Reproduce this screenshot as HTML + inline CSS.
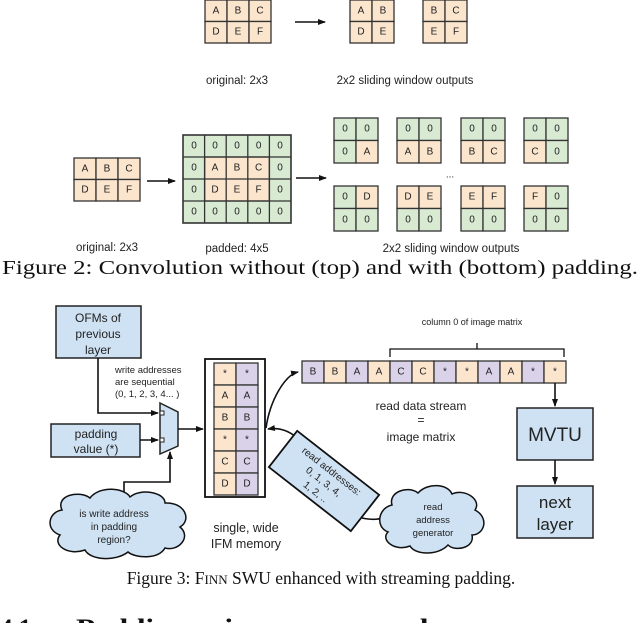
<!DOCTYPE html>
<html><head><meta charset="utf-8"><style>
html,body{margin:0;padding:0;background:#fff;width:640px;height:623px;overflow:hidden}
svg{display:block}
.c{font-family:"Liberation Sans",sans-serif;font-size:10px;fill:#222;text-anchor:middle;dominant-baseline:central}
.l{font-family:"Liberation Sans",sans-serif;font-size:11.5px;fill:#222;text-anchor:middle}
.cap{font-family:"Liberation Serif",serif;font-size:19px;fill:#111;text-anchor:middle}
.o{fill:#fce5cd;stroke:#333;stroke-width:1.3}
.g{fill:#d9ead3;stroke:#333;stroke-width:1.3}
.p{fill:#d9d2e9;stroke:#333;stroke-width:1.3}
.b{fill:#cfe2f3;stroke:#222;stroke-width:1.5}
.ln{fill:none;stroke:#111;stroke-width:1.6}
</style></head><body>
<svg width="640" height="623" viewBox="0 0 640 623" xmlns="http://www.w3.org/2000/svg">
<defs><marker id="a" markerWidth="8" markerHeight="8" refX="7" refY="4" orient="auto" markerUnits="userSpaceOnUse"><path d="M0,1 L8,4 L0,7z" fill="#111"/></marker></defs>

<!-- TOP -->
<g>
<rect class="o" x="205" y="0" width="22" height="21.5"/><rect class="o" x="227" y="0" width="22" height="21.5"/><rect class="o" x="249" y="0" width="22" height="21.5"/>
<rect class="o" x="205" y="21.5" width="22" height="21.5"/><rect class="o" x="227" y="21.5" width="22" height="21.5"/><rect class="o" x="249" y="21.5" width="22" height="21.5"/>
<text class="c" x="216" y="11">A</text><text class="c" x="238" y="11">B</text><text class="c" x="260" y="11">C</text>
<text class="c" x="216" y="32">D</text><text class="c" x="238" y="32">E</text><text class="c" x="260" y="32">F</text>
<line class="ln" x1="295" y1="22" x2="325" y2="22" marker-end="url(#a)"/>
<rect class="o" x="350" y="0" width="22" height="21.5"/><rect class="o" x="372" y="0" width="22" height="21.5"/>
<rect class="o" x="350" y="21.5" width="22" height="21.5"/><rect class="o" x="372" y="21.5" width="22" height="21.5"/>
<text class="c" x="361" y="11">A</text><text class="c" x="383" y="11">B</text><text class="c" x="361" y="32">D</text><text class="c" x="383" y="32">E</text>
<rect class="o" x="423" y="0" width="22" height="21.5"/><rect class="o" x="445" y="0" width="22" height="21.5"/>
<rect class="o" x="423" y="21.5" width="22" height="21.5"/><rect class="o" x="445" y="21.5" width="22" height="21.5"/>
<text class="c" x="434" y="11">B</text><text class="c" x="456" y="11">C</text><text class="c" x="434" y="32">E</text><text class="c" x="456" y="32">F</text>
<text class="l" x="237" y="84">original: 2x3</text>
<text class="l" x="405" y="84">2x2 sliding window outputs</text>
</g>

<!-- BOTTOM fig2 -->
<g>
<rect class="o" x="74" y="158" width="22" height="21.5"/><rect class="o" x="96" y="158" width="22" height="21.5"/><rect class="o" x="118" y="158" width="22" height="21.5"/>
<rect class="o" x="74" y="179.5" width="22" height="21.5"/><rect class="o" x="96" y="179.5" width="22" height="21.5"/><rect class="o" x="118" y="179.5" width="22" height="21.5"/>
<text class="c" x="85" y="169">A</text><text class="c" x="107" y="169">B</text><text class="c" x="129" y="169">C</text>
<text class="c" x="85" y="190">D</text><text class="c" x="107" y="190">E</text><text class="c" x="129" y="190">F</text>
<line class="ln" x1="147" y1="181" x2="175" y2="181" marker-end="url(#a)"/>

<rect x="183" y="135" width="108" height="88" fill="#d9ead3" stroke="#333" stroke-width="1.6"/>
<rect class="o" x="204.6" y="157" width="64.8" height="44"/>
<g stroke="#333" stroke-width="1.3">
<line x1="204.6" y1="135" x2="204.6" y2="223"/><line x1="226.2" y1="135" x2="226.2" y2="223"/><line x1="247.8" y1="135" x2="247.8" y2="223"/><line x1="269.4" y1="135" x2="269.4" y2="223"/>
<line x1="183" y1="157" x2="291" y2="157"/><line x1="183" y1="179" x2="291" y2="179"/><line x1="183" y1="201" x2="291" y2="201"/>
</g>
<text class="c" x="194" y="146">0</text><text class="c" x="215" y="146">0</text><text class="c" x="237" y="146">0</text><text class="c" x="258.6" y="146">0</text><text class="c" x="280" y="146">0</text>
<text class="c" x="194" y="168">0</text><text class="c" x="215" y="168">A</text><text class="c" x="237" y="168">B</text><text class="c" x="258.6" y="168">C</text><text class="c" x="280" y="168">0</text>
<text class="c" x="194" y="190">0</text><text class="c" x="215" y="190">D</text><text class="c" x="237" y="190">E</text><text class="c" x="258.6" y="190">F</text><text class="c" x="280" y="190">0</text>
<text class="c" x="194" y="212">0</text><text class="c" x="215" y="212">0</text><text class="c" x="237" y="212">0</text><text class="c" x="258.6" y="212">0</text><text class="c" x="280" y="212">0</text>
<line class="ln" x1="296" y1="178" x2="326" y2="178" marker-end="url(#a)"/>

<!-- windows row 1 -->
<rect class="g" x="334" y="118" width="22" height="22.5"/><rect class="g" x="356" y="118" width="22" height="22.5"/><rect class="g" x="334" y="140.5" width="22" height="22.5"/><rect class="o" x="356" y="140.5" width="22" height="22.5"/>
<text class="c" x="345" y="129">0</text><text class="c" x="367" y="129">0</text><text class="c" x="345" y="152">0</text><text class="c" x="367" y="152">A</text>
<rect class="g" x="397" y="118" width="22" height="22.5"/><rect class="g" x="419" y="118" width="22" height="22.5"/><rect class="o" x="397" y="140.5" width="22" height="22.5"/><rect class="o" x="419" y="140.5" width="22" height="22.5"/>
<text class="c" x="408" y="129">0</text><text class="c" x="430" y="129">0</text><text class="c" x="408" y="152">A</text><text class="c" x="430" y="152">B</text>
<rect class="g" x="461" y="118" width="22" height="22.5"/><rect class="g" x="483" y="118" width="22" height="22.5"/><rect class="o" x="461" y="140.5" width="22" height="22.5"/><rect class="o" x="483" y="140.5" width="22" height="22.5"/>
<text class="c" x="472" y="129">0</text><text class="c" x="494" y="129">0</text><text class="c" x="472" y="152">B</text><text class="c" x="494" y="152">C</text>
<rect class="g" x="524" y="118" width="22" height="22.5"/><rect class="g" x="546" y="118" width="22" height="22.5"/><rect class="o" x="524" y="140.5" width="22" height="22.5"/><rect class="g" x="546" y="140.5" width="22" height="22.5"/>
<text class="c" x="535" y="129">0</text><text class="c" x="557" y="129">0</text><text class="c" x="535" y="152">C</text><text class="c" x="557" y="152">0</text>
<text class="c" x="450" y="175">...</text>
<!-- windows row 2 -->
<rect class="g" x="334" y="186" width="22" height="22.5"/><rect class="o" x="356" y="186" width="22" height="22.5"/><rect class="g" x="334" y="208.5" width="22" height="22.5"/><rect class="g" x="356" y="208.5" width="22" height="22.5"/>
<text class="c" x="345" y="197">0</text><text class="c" x="367" y="197">D</text><text class="c" x="345" y="220">0</text><text class="c" x="367" y="220">0</text>
<rect class="o" x="397" y="186" width="22" height="22.5"/><rect class="o" x="419" y="186" width="22" height="22.5"/><rect class="g" x="397" y="208.5" width="22" height="22.5"/><rect class="g" x="419" y="208.5" width="22" height="22.5"/>
<text class="c" x="408" y="197">D</text><text class="c" x="430" y="197">E</text><text class="c" x="408" y="220">0</text><text class="c" x="430" y="220">0</text>
<rect class="o" x="461" y="186" width="22" height="22.5"/><rect class="o" x="483" y="186" width="22" height="22.5"/><rect class="g" x="461" y="208.5" width="22" height="22.5"/><rect class="g" x="483" y="208.5" width="22" height="22.5"/>
<text class="c" x="472" y="197">E</text><text class="c" x="494" y="197">F</text><text class="c" x="472" y="220">0</text><text class="c" x="494" y="220">0</text>
<rect class="o" x="524" y="186" width="22" height="22.5"/><rect class="g" x="546" y="186" width="22" height="22.5"/><rect class="g" x="524" y="208.5" width="22" height="22.5"/><rect class="g" x="546" y="208.5" width="22" height="22.5"/>
<text class="c" x="535" y="197">F</text><text class="c" x="557" y="197">0</text><text class="c" x="535" y="220">0</text><text class="c" x="557" y="220">0</text>

<text class="l" x="107" y="251">original: 2x3</text>
<text class="l" x="237" y="252">padded: 4x5</text>
<text class="l" x="451" y="252">2x2 sliding window outputs</text>
<text class="cap" x="320" y="274" style="font-size:19.5px" textLength="636" lengthAdjust="spacingAndGlyphs">Figure 2:  Convolution without (top) and with (bottom) padding.</text>
</g>

<!-- FIGURE 3 -->
<g>
<rect class="b" x="56" y="306" width="85" height="52"/>
<text class="l" x="98" y="322" style="font-size:12px">OFMs of</text><text class="l" x="98" y="338" style="font-size:12px">previous</text><text class="l" x="98" y="354" style="font-size:12px">layer</text>
<text x="115" y="373" style="font-family:'Liberation Sans',sans-serif;font-size:9.5px;fill:#222">write addresses</text>
<text x="115" y="385" style="font-family:'Liberation Sans',sans-serif;font-size:9.5px;fill:#222">are sequential</text>
<text x="115" y="397" style="font-family:'Liberation Sans',sans-serif;font-size:9.5px;fill:#222">(0, 1, 2, 3, 4... )</text>
<rect class="b" x="51" y="424" width="89" height="33"/>
<text class="l" x="96" y="438" style="font-size:12px">padding</text><text class="l" x="96" y="453" style="font-size:12px">value (*)</text>
<polyline class="ln" points="98,358 98,413 158,413" marker-end="url(#a)"/>
<line class="ln" x1="140" y1="440" x2="158" y2="440" marker-end="url(#a)"/>
<path d="M160,403 L178,412 L178,446 L160,454 Z" fill="#cfe2f3" stroke="#222" stroke-width="1.5"/>
<rect x="160" y="411" width="4" height="4" fill="#fff" stroke="#222"/><rect x="160" y="438" width="4" height="4" fill="#fff" stroke="#222"/>
<polyline class="ln" points="124,506 124,482 170,482 170,452" marker-end="url(#a)"/>
<line class="ln" x1="178" y1="429" x2="203" y2="429" marker-end="url(#a)"/>

<rect x="205" y="359" width="60" height="138" fill="#fff" stroke="#111" stroke-width="1.8"/>
<g>
<rect class="o" x="214" y="363" width="22" height="22"/><rect class="p" x="236" y="363" width="22" height="22"/>
<rect class="o" x="214" y="385" width="22" height="22"/><rect class="p" x="236" y="385" width="22" height="22"/>
<rect class="o" x="214" y="407" width="22" height="22"/><rect class="p" x="236" y="407" width="22" height="22"/>
<rect class="o" x="214" y="429" width="22" height="22"/><rect class="p" x="236" y="429" width="22" height="22"/>
<rect class="o" x="214" y="451" width="22" height="22"/><rect class="p" x="236" y="451" width="22" height="22"/>
<rect class="o" x="214" y="473" width="22" height="22"/><rect class="p" x="236" y="473" width="22" height="22"/>
<text class="c" x="225" y="374">*</text><text class="c" x="247" y="374">*</text>
<text class="c" x="225" y="396">A</text><text class="c" x="247" y="396">A</text>
<text class="c" x="225" y="418">B</text><text class="c" x="247" y="418">B</text>
<text class="c" x="225" y="440">*</text><text class="c" x="247" y="440">*</text>
<text class="c" x="225" y="462">C</text><text class="c" x="247" y="462">C</text>
<text class="c" x="225" y="484">D</text><text class="c" x="247" y="484">D</text>
</g>
<text class="l" x="246" y="532" style="font-size:12.5px">single, wide</text>
<text class="l" x="246" y="548" style="font-size:12.5px">IFM memory</text>

<path d="M62,510 C55,495 80,490 90,498 C100,485 125,488 130,497 C140,488 165,492 165,503 C185,502 192,520 180,527 C192,537 178,552 165,548 C158,560 135,558 128,552 C115,562 90,560 85,550 C68,556 52,545 60,535 C45,530 48,512 62,510 Z" fill="#cfe2f3" stroke="#111" stroke-width="1.5"/>
<text class="l" x="114" y="517" style="font-size:10px">is write address</text>
<text class="l" x="114" y="530" style="font-size:10px">in padding</text>
<text class="l" x="114" y="543" style="font-size:10px">region?</text>

<path d="M266,428 C270,400 285,375 298,372" class="ln" marker-end="url(#a)"/>
<path d="M296,437 C285,428 275,428 268,429" class="ln" marker-end="url(#a)"/>
<path d="M362,518 C372,520 380,520 388,516" class="ln"/>

<g transform="translate(324,481) rotate(38)">
<rect x="-52" y="-23" width="104" height="46" fill="#cfe2f3" stroke="#111" stroke-width="1.8"/>
<text class="l" x="0" y="-9" style="font-size:10px">read addresses:</text>
<text class="l" x="0" y="4" style="font-size:10px">0, 1, 3, 4,</text>
<text class="l" x="0" y="17" style="font-size:10px">1, 2, ..</text>
</g>

<path d="M392,505 C388,492 408,485 418,493 C428,482 448,484 452,494 C465,488 482,500 475,510 C490,518 484,535 472,535 C475,548 455,552 448,545 C438,556 415,555 410,546 C395,552 380,540 388,532 C375,527 378,508 392,505 Z" fill="#cfe2f3" stroke="#111" stroke-width="1.5"/>
<text class="l" x="433" y="510" style="font-size:9.5px">read</text>
<text class="l" x="433" y="523" style="font-size:9.5px">address</text>
<text class="l" x="433" y="536" style="font-size:9.5px">generator</text>

<text class="l" x="472" y="325" style="font-size:9px">column 0 of image matrix</text>
<path d="M390,357 L390,349 L477,349 L477,343 M477,349 L564,349 L564,357" fill="none" stroke="#111" stroke-width="1.3"/>

<g>
<rect class="p" x="302" y="361" width="22" height="22"/><rect class="o" x="324" y="361" width="22" height="22"/>
<rect class="p" x="346" y="361" width="22" height="22"/><rect class="o" x="368" y="361" width="22" height="22"/>
<rect class="p" x="390" y="361" width="22" height="22"/><rect class="o" x="412" y="361" width="22" height="22"/>
<rect class="p" x="434" y="361" width="22" height="22"/><rect class="o" x="456" y="361" width="22" height="22"/>
<rect class="p" x="478" y="361" width="22" height="22"/><rect class="o" x="500" y="361" width="22" height="22"/>
<rect class="p" x="522" y="361" width="22" height="22"/><rect class="o" x="544" y="361" width="22" height="22"/>
<text class="c" x="313" y="372">B</text><text class="c" x="335" y="372">B</text><text class="c" x="357" y="372">A</text><text class="c" x="379" y="372">A</text>
<text class="c" x="401" y="372">C</text><text class="c" x="423" y="372">C</text><text class="c" x="445" y="372">*</text><text class="c" x="467" y="372">*</text>
<text class="c" x="489" y="372">A</text><text class="c" x="511" y="372">A</text><text class="c" x="533" y="372">*</text><text class="c" x="555" y="372">*</text>
</g>
<text class="l" x="421" y="410" style="font-size:12px">read data stream</text>
<text class="l" x="421" y="424" style="font-size:12px">=</text>
<text class="l" x="421" y="441" style="font-size:12px">image matrix</text>

<line class="ln" x1="555" y1="383" x2="555" y2="406" marker-end="url(#a)"/>
<rect class="b" x="517" y="408" width="76" height="52"/>
<text class="l" x="555" y="441" style="font-size:19px">MVTU</text>
<line class="ln" x1="555" y1="460" x2="555" y2="484" marker-end="url(#a)"/>
<rect class="b" x="517" y="486" width="76" height="52"/>
<text class="l" x="555" y="508" style="font-size:17px">next</text>
<text class="l" x="555" y="530" style="font-size:17px">layer</text>

<text class="cap" x="321" y="584" style="font-size:17.5px">Figure 3:  F<tspan style="font-size:13px">INN</tspan> SWU enhanced with streaming padding.</text>
<text x="0" y="636" style="font-family:'Liberation Serif',serif;font-weight:bold;font-size:25px;fill:#111">4.1</text>
<text x="76" y="636" style="font-family:'Liberation Serif',serif;font-weight:bold;font-size:25px;fill:#111" textLength="396" lengthAdjust="spacingAndGlyphs">Padding using nonzero values</text>
</g>
</svg>
</body></html>
